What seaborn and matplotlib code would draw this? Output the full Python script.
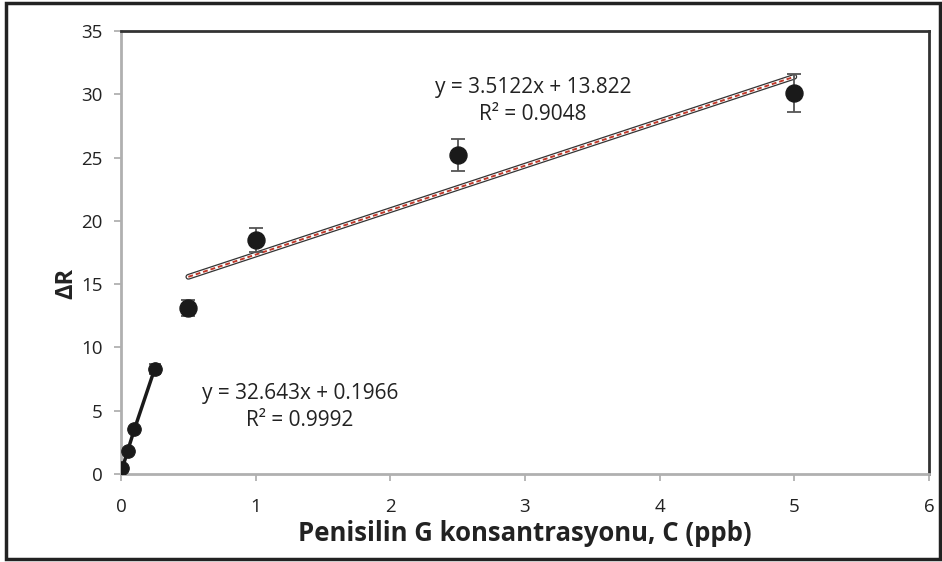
import numpy as np
import pandas as pd
import matplotlib
matplotlib.use("Agg")
import matplotlib.pyplot as plt
import seaborn as sns
from matplotlib.patches import Rectangle

# Data
low_x = [0.01, 0.05, 0.1, 0.25]
low_y = [0.45, 1.85, 3.55, 8.3]
low_err = [0.0, 0.0, 0.0, 0.4]
high_x = [0.5, 1.0, 2.5, 5.0]
high_y = [13.1, 18.5, 25.2, 30.1]
high_err = [0.65, 0.95, 1.25, 1.5]
fit_high = (3.5122, 13.822)
fit_low = (32.643, 0.1966)
xticks = [0, 1, 2, 3, 4, 5, 6]
yticks = [0, 5, 10, 15, 20, 25, 30, 35]

sns.set_theme(style="white")
plt.rcParams['font.family'] = ['Open Sans', 'DejaVu Sans']

fig = plt.figure(figsize=(9.42, 5.62), dpi=100)
ax = fig.add_axes([121/942, 1-474/562, (929-121)/942, (474-31)/562])

# outer frame
fig.patches.append(Rectangle((6/942, 3/562), 934/942, 556/562, transform=fig.transFigure,
                             fill=False, edgecolor='#222222', linewidth=2.5, zorder=10))

df_low = pd.DataFrame({'x': low_x, 'y': low_y})
df_high = pd.DataFrame({'x': high_x, 'y': high_y})

# high trendline (double line with red dashes)
tx = np.array([high_x[0], high_x[-1]])
df_fit = pd.DataFrame({'x': tx, 'y': fit_high[0]*tx + fit_high[1]})
sns.lineplot(data=df_fit, x='x', y='y', ax=ax, color='#333333', linewidth=4.2, zorder=2)
sns.lineplot(data=df_fit, x='x', y='y', ax=ax, color='white', linewidth=2.4, zorder=3)
sns.lineplot(data=df_fit, x='x', y='y', ax=ax, color='#c0392b', linewidth=1.4,
             linestyle=(0, (2.5, 1.5)), zorder=4)

# low series line
sns.lineplot(data=df_low, x='x', y='y', ax=ax, color='#1a1a1a', linewidth=2.5, zorder=3)

# error bars
ax.errorbar(low_x, low_y, yerr=low_err, fmt='none', ecolor='#555555', elinewidth=1.3,
            capsize=4.5, capthick=1.3, zorder=4)
ax.errorbar(high_x, high_y, yerr=high_err, fmt='none', ecolor='#555555', elinewidth=1.3,
            capsize=5, capthick=1.3, zorder=4)

sns.scatterplot(data=df_low, x='x', y='y', ax=ax, color='#1a1a1a', s=95,
                edgecolor='#1a1a1a', zorder=5)
sns.scatterplot(data=df_high, x='x', y='y', ax=ax, color='#1a1a1a', s=150,
                edgecolor='#1a1a1a', zorder=5)

ax.set_xlim(0, 6)
ax.set_ylim(0, 35)
ax.set_xticks(xticks)
ax.set_yticks(yticks)
ax.tick_params(axis='both', which='major', direction='out', length=5, width=1.2,
               color='#aaaaaa', labelsize=13.5, labelcolor='#222222',
               bottom=True, left=True)
ax.tick_params(axis='x', pad=12)
ax.tick_params(axis='y', pad=8)

for s in ['left', 'bottom']:
    ax.spines[s].set_color('#b0b0b0')
    ax.spines[s].set_linewidth(2)
for s in ['top', 'right']:
    ax.spines[s].set_color('#333333')
    ax.spines[s].set_linewidth(2)

ax.set_xlabel('Penisilin G konsantrasyonu, C (ppb)', fontsize=18.5, fontweight='bold',
              color='#222222', labelpad=3)
ax.set_ylabel('')
fig.text(66/942, 1-283/562, 'ΔR', rotation=90, fontsize=17, fontweight='bold',
         color='#222222', ha='center', va='center')

ax.text((533-121)/134.67, (474-101)/12.657, f'y = {fit_high[0]}x + {fit_high[1]}\nR² = 0.9048',
        ha='center', va='center', fontsize=15, color='#222222', linespacing=1.35)
ax.text((300-121)/134.67, (474-407)/12.657, f'y = {fit_low[0]}x + {fit_low[1]}\nR² = 0.9992',
        ha='center', va='center', fontsize=15, color='#222222', linespacing=1.35)

fig.savefig('out.png', dpi=100)
